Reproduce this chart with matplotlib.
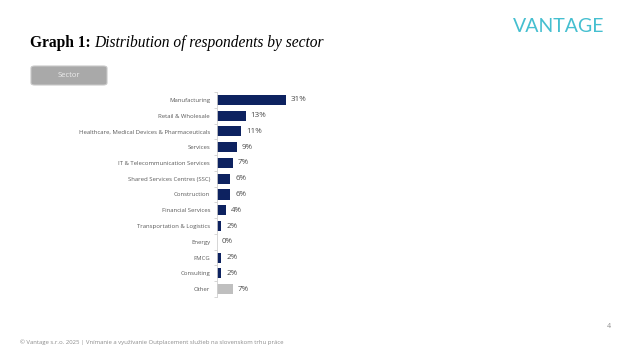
import matplotlib
matplotlib.use("Agg")
import matplotlib.pyplot as plt
from matplotlib.patches import FancyBboxPatch

categories = ["Manufacturing", "Retail & Wholesale", "Healthcare, Medical Devices & Pharmaceuticals",
              "Services", "IT & Telecommunication Services", "Shared Services Centres (SSC)",
              "Construction", "Financial Services", "Transportation & Logistics", "Energy",
              "FMCG", "Consulting", "Other"]
values = [31, 13, 11, 9, 7, 6, 6, 4, 2, 0, 2, 2, 7]
value_labels = ["31%", "13%", "11%", "9%", "7%", "6%", "6%", "4%", "2%", "0%", "2%", "2%", "7%"]

W, H = 625, 352
fig = plt.figure(figsize=(W / 100, H / 100), dpi=100)
fig.patch.set_facecolor("white")

def fx(x):
    return x / W

def fy(y):
    return 1 - y / H

# Title
t1 = fig.text(fx(30), fy(47), "Graph 1:", fontfamily="Liberation Serif", fontweight="bold",
              fontsize=11.2, color="black", va="baseline", ha="left")
fig.canvas.draw()
bb = t1.get_window_extent(renderer=fig.canvas.get_renderer())
x_end = bb.x1 / W
fig.text(x_end + fx(3.5), fy(47), "Distribution of respondents by sector", fontfamily="Liberation Serif",
         fontstyle="italic", fontsize=11.2, color="black", va="baseline", ha="left")

# Logo
fig.text(fx(558.5), fy(26), "VANTAGE", fontfamily="Lato", fontsize=14,
         color="#45bfd0", ha="center", va="center")

# Sector button
btn = FancyBboxPatch((fx(31), fy(85)), fx(76), 19 / H,
                     boxstyle="round,pad=0,rounding_size=0.006", transform=fig.transFigure,
                     facecolor="#a9a9a9", edgecolor="#c8c8c8", linewidth=0.8)
fig.patches.append(btn)
fig.text(fx(69), fy(75.5), "Sector", fontfamily="Open Sans", fontsize=5.5, color="#ececec",
         ha="center", va="center")

# Chart axes
ax = fig.add_axes([fx(217), fy(297), fx(89), (297 - 92) / H])
n = len(categories)
ypos = list(range(n))
colors = ["#0d2260"] * (n - 1) + ["#bfbfbf"]
ax.barh(ypos, values, height=0.64, color=colors)
ax.set_ylim(n - 0.5, -0.5)
ax.set_xlim(0, 40)
ax.set_yticks(ypos)
ax.set_yticklabels(categories, fontfamily="Open Sans", fontsize=4.3, color="#595959")
ax.set_yticks([i - 0.5 for i in range(n + 1)], minor=True)
ax.tick_params(axis="y", which="major", length=0, pad=5)
ax.tick_params(axis="y", which="minor", length=2, color="#d0d0d0", width=0.6)
ax.set_xticks([])
for s in ["top", "right", "bottom"]:
    ax.spines[s].set_visible(False)
ax.spines["left"].set_color("#d0d0d0")
ax.spines["left"].set_linewidth(0.6)
for i, (v, lab) in enumerate(zip(values, value_labels)):
    ax.text(v + 2.2, i, lab, fontfamily="Open Sans", fontsize=5.8, color="#4a4a4a",
            ha="left", va="center", clip_on=False)

# Footer
fig.text(fx(20), fy(342), "© Vantage s.r.o. 2025 | Vnímanie a využívanie Outplacement služieb na slovenskom trhu práce",
         fontfamily="Open Sans", fontsize=4.3, color="#8c8c8c", ha="left", va="center")
fig.text(fx(609), fy(326), "4", fontfamily="Open Sans", fontsize=5, color="#8c8c8c",
         ha="center", va="center")

fig.savefig("out.png", dpi=100, facecolor="white")
